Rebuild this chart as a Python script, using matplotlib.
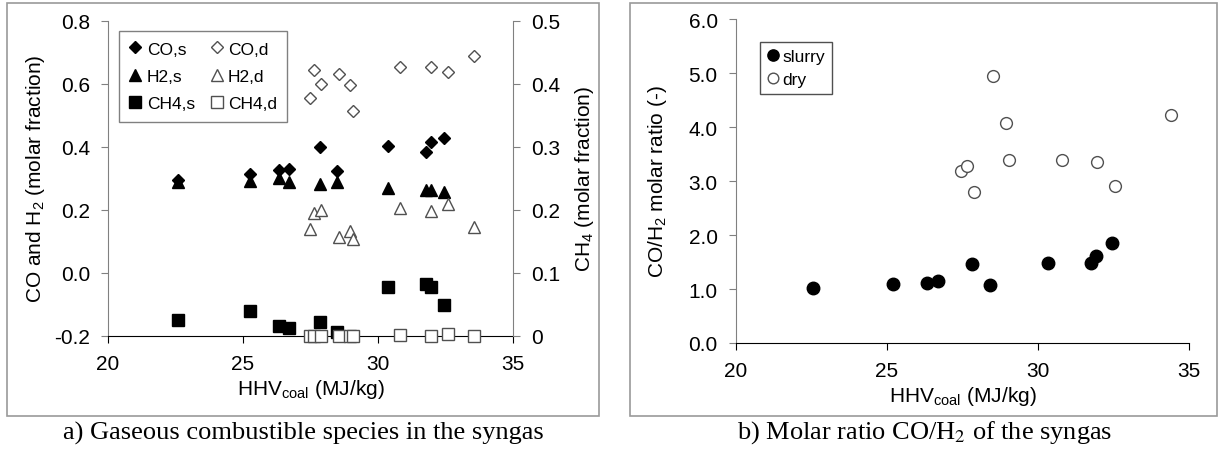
import matplotlib
matplotlib.use('Agg')
import matplotlib.pyplot as plt
from matplotlib.patches import Rectangle

plt.rcParams['font.family'] = ['Liberation Sans', 'DejaVu Sans']
plt.rcParams['mathtext.fontset'] = 'custom'
plt.rcParams['mathtext.rm'] = 'Liberation Sans'
plt.rcParams['mathtext.it'] = 'Liberation Sans:italic'
plt.rcParams['mathtext.default'] = 'rm'

# coal heating values (MJ/kg)
hhv_slurry = [22.6, 25.26, 26.35, 26.69, 27.85, 28.47, 30.36, 31.78, 31.95, 32.46]
hhv_dry = [27.48, 27.64, 27.89, 28.56, 28.96, 29.09, 30.81, 31.96, 32.58, 33.57]

# panel a: molar fractions
co_s = [0.295, 0.313, 0.327, 0.330, 0.398, 0.324, 0.403, 0.382, 0.414, 0.427]
h2_s = [0.287, 0.292, 0.300, 0.287, 0.282, 0.287, 0.268, 0.263, 0.263, 0.257]
ch4_s = [0.025, 0.040, 0.016, 0.013, 0.021, 0.006, 0.078, 0.082, 0.078, 0.049]
co_d = [0.554, 0.644, 0.599, 0.632, 0.596, 0.514, 0.652, 0.653, 0.638, 0.687]
h2_d = [0.139, 0.190, 0.199, 0.112, 0.133, 0.107, 0.205, 0.197, 0.218, 0.144]
ch4_d = [0.0, 0.0, 0.0, 0.0, 0.0, 0.0, 0.001, 0.0, 0.002, 0.0]

# panel b: CO/H2 molar ratio
ratio_hhv_slurry = [22.57, 25.22, 26.32, 26.68, 27.83, 28.42, 30.33, 31.75, 31.93, 32.44]
ratio_slurry = [1.01, 1.09, 1.12, 1.14, 1.46, 1.07, 1.49, 1.49, 1.62, 1.85]
ratio_hhv_dry = [27.46, 27.65, 27.87, 28.53, 28.95, 29.06, 30.79, 31.97, 32.56, 34.4]
ratio_dry = [3.19, 3.27, 2.80, 4.95, 4.07, 3.38, 3.38, 3.36, 2.91, 4.23]

x_ticks = [20, 25, 30, 35]
left_ticks = [-0.2, 0.0, 0.2, 0.4, 0.6, 0.8]
ch4_ticks = [0, 0.1, 0.2, 0.3, 0.4, 0.5]
ratio_ticks = [0, 1, 2, 3, 4, 5, 6]

W, H = 1222, 456
fig = plt.figure(figsize=(W / 100, H / 100), dpi=100)

# panel frames
for x0, x1 in [(7, 599), (630, 1217)]:
    fig.add_artist(Rectangle((x0 / W, 1 - 417 / H), (x1 - x0) / W, 413 / H,
                             transform=fig.transFigure, fill=False,
                             edgecolor='#9a9a9a', linewidth=1.2))

grey = '#505050'
fs = 15


def style_axis(ax):
    ax.spines['top'].set_visible(False)
    ax.spines['bottom'].set_color('black')
    ax.tick_params(direction='out', length=5, labelsize=fs, width=0.8)
    ax.tick_params(axis='y', colors='#808080', labelcolor='black', pad=8)
    ax.tick_params(axis='x', pad=8)


# ---- panel a ----
ax1 = fig.add_axes([108 / W, 1 - 336.7 / H, (513 - 108) / W, 315 / H])
ax2 = ax1.twinx()
style_axis(ax1)
ax1.spines['right'].set_visible(False)
ax1.spines['left'].set_color('#808080')
ax2.spines['top'].set_visible(False)
ax2.spines['left'].set_visible(False)
ax2.spines['bottom'].set_visible(False)
ax2.spines['right'].set_color('#808080')
ax2.tick_params(direction='out', length=5, labelsize=fs, colors='#808080',
                labelcolor='black', pad=8)

ax1.plot(hhv_slurry, co_s, 'D', color='black', ms=6.5, label='CO,s')
ax1.plot(hhv_slurry, h2_s, '^', color='black', ms=9, label='H2,s')
ax1.plot(hhv_dry, co_d, 'D', mfc='white', mec=grey, mew=1, ms=6.5, label='CO,d')
ax1.plot(hhv_dry, h2_d, '^', mfc='white', mec=grey, mew=1, ms=9, label='H2,d')
ax2.plot(hhv_slurry, ch4_s, 's', color='black', ms=9, label='CH4,s', clip_on=False)
ax2.plot(hhv_dry, ch4_d, 's', mfc='white', mec=grey, mew=1, ms=9, label='CH4,d',
         clip_on=False, zorder=5)

ax1.set_xlim(20, 35)
ax1.set_ylim(-0.2, 0.8)
ax2.set_ylim(0, 0.5)
ax1.set_xticks(x_ticks)
ax1.set_yticks(left_ticks)
ax1.set_yticklabels(['%.1f' % v for v in left_ticks])
ax2.set_yticks(ch4_ticks)
ax2.set_yticklabels(['0'] + ['%.1f' % v for v in ch4_ticks[1:]])
ax1.set_xlabel('HHV$_{coal}$ (MJ/kg)', fontsize=fs, labelpad=3)
ax1.set_ylabel('CO and H$_2$ (molar fraction)', fontsize=fs, labelpad=5)
ax2.set_ylabel('CH$_4$ (molar fraction)', fontsize=fs, labelpad=9)

h1, l1 = ax1.get_legend_handles_labels()
h2, l2 = ax2.get_legend_handles_labels()
hd = dict(zip(l1 + l2, h1 + h2))
order = ['CO,s', 'H2,s', 'CH4,s', 'CO,d', 'H2,d', 'CH4,d']
leg = ax2.legend([hd[k] for k in order], order, ncol=2, loc='upper left',
                 bbox_to_anchor=(119 / W, 1 - 32 / H), bbox_transform=fig.transFigure,
                 borderaxespad=0, fancybox=False, edgecolor='#808080', fontsize=12.5,
                 handlelength=0.7, handletextpad=0.3, columnspacing=0.9,
                 labelspacing=0.7, borderpad=0.6, framealpha=1)
leg.get_frame().set_linewidth(1.0)

# ---- panel b ----
ax3 = fig.add_axes([735.7 / W, 1 - 344 / H, (1189 - 735.7) / W, 324 / H])
style_axis(ax3)
ax3.spines['right'].set_visible(False)
ax3.spines['left'].set_color('#808080')
ax3.plot(ratio_hhv_slurry, ratio_slurry, 'o', color='black', ms=9, label='slurry')
ax3.plot(ratio_hhv_dry, ratio_dry, 'o', mfc='white', mec=grey, mew=1, ms=8.5, label='dry')
ax3.set_xlim(20, 35)
ax3.set_ylim(0, 6)
ax3.set_xticks(x_ticks)
ax3.set_yticks(ratio_ticks)
ax3.set_yticklabels(['%.1f' % v for v in ratio_ticks])
ax3.set_xlabel('HHV$_{coal}$ (MJ/kg)', fontsize=fs, labelpad=3)
ax3.set_ylabel('CO/H$_2$ molar ratio (-)', fontsize=fs, labelpad=14)
leg2 = ax3.legend(loc='upper left', bbox_to_anchor=(760 / W, 1 - 43 / H),
                  bbox_transform=fig.transFigure, borderaxespad=0, fancybox=False,
                  edgecolor='#505050', fontsize=12.5, handlelength=0.7, markerscale=0.9,
                  handletextpad=0.2, labelspacing=0.45, borderpad=0.4, framealpha=1)
leg2.get_frame().set_linewidth(1.0)

# captions
fig.text(303 / W, 1 - 433 / H, 'a) Gaseous combustible species in the syngas',
         family='Liberation Serif', fontsize=19, ha='center', va='center')
fig.text(925 / W, 1 - 433 / H, 'b) Molar ratio CO/H$_2$ of the syngas',
         family='Liberation Serif', math_fontfamily='stix', fontsize=19,
         ha='center', va='center')

fig.savefig('out.png', dpi=100)
